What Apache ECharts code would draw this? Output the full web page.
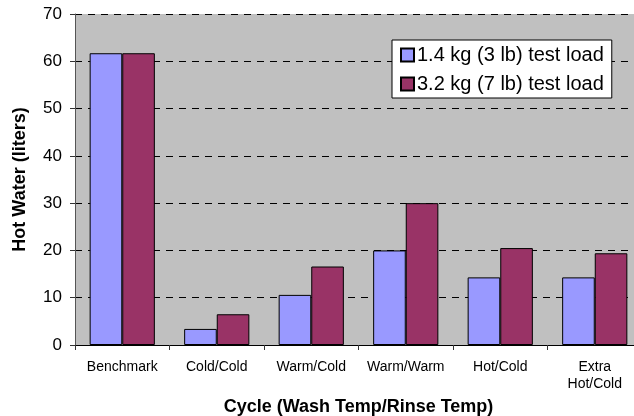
<!DOCTYPE html>
<html><head><meta charset="utf-8">
<script src="https://cdn.jsdelivr.net/npm/echarts@6/dist/echarts.min.js"></script>
<style>html,body{margin:0;padding:0;background:#fff}#c{width:634px;height:416px}</style>
</head><body><div id="c"></div>
<script>
const categories = ['Benchmark','Cold/Cold','Warm/Cold','Warm/Warm','Hot/Cold','Extra\nHot/Cold'];
const seriesNames = ['1.4 kg (3 lb) test load','3.2 kg (7 lb) test load'];
const light = [61.7, 3.4, 10.6, 20.0, 14.3, 14.3];
const heavy = [61.7, 6.5, 16.6, 30.0, 20.5, 19.4];
const font = 'Liberation Sans, Arial, sans-serif';
const chart = echarts.init(document.getElementById('c'));
chart.setOption({
  animation:false,
  textStyle:{fontFamily:font},
  grid:{left:75,width:567,top:14,height:331,show:true,backgroundColor:'#c0c0c0',borderWidth:0,
        containLabel:false,outerBoundsMode:'none'},
  legend:{
    left:392,top:40,orient:'vertical',
    padding:[5,8,4,8],itemGap:9,
    backgroundColor:'#fff',borderColor:'#000',borderWidth:1,
    icon:'rect',itemWidth:13,itemHeight:13,
    textStyle:{fontSize:20,color:'#000',fontFamily:font,padding:[0,0,0,-2]},
    data:seriesNames
  },
  xAxis:{
    type:'category',data:categories,
    name:'Cycle (Wash Temp/Rinse Temp)',nameLocation:'middle',nameGap:48,
    nameTextStyle:{fontSize:18,fontWeight:'bold',color:'#000',fontFamily:font},
    axisLine:{lineStyle:{color:'#000',width:1}},
    axisTick:{show:true,length:5,lineStyle:{color:'#333'}},
    axisLabel:{fontSize:14,color:'#000',margin:14,lineHeight:17,interval:0,fontFamily:font}
  },
  yAxis:{
    type:'value',min:0,max:70,interval:10,
    name:'Hot Water (liters)',nameLocation:'middle',nameGap:46,
    nameTextStyle:{fontSize:18,fontWeight:'bold',color:'#000',fontFamily:font},
    axisLine:{show:true,lineStyle:{color:'#555',width:1}},
    axisTick:{show:true,length:5,lineStyle:{color:'#333'}},
    axisLabel:{fontSize:17,color:'#000',margin:13,fontFamily:font},
    splitLine:{show:true,lineStyle:{color:'#000',type:[7,6],width:1}}
  },
  series:[
    {name:seriesNames[0],type:'bar',data:light,barGap:'0%',barCategoryGap:'31%',
     itemStyle:{color:'#9999ff',borderColor:'#000',borderWidth:1}},
    {name:seriesNames[1],type:'bar',data:heavy,barGap:'0%',barCategoryGap:'31%',
     itemStyle:{color:'#993366',borderColor:'#000',borderWidth:1}}
  ]
});
</script></body></html>
